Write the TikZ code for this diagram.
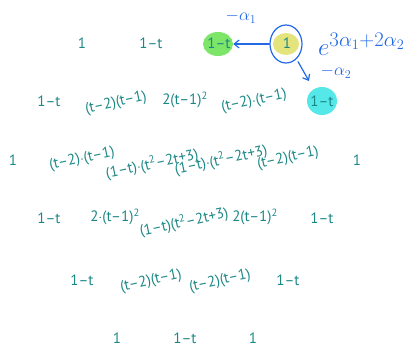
\documentclass[tikz,border=0pt]{standalone}
\usepackage{fontspec}
\setmainfont{PT Sans}
\usepackage{tikz}
\usetikzlibrary{arrows.meta,positioning,shapes.geometric}
\definecolor{wtteal}{RGB}{28,136,134}
\definecolor{inkblue}{RGB}{35,105,230}
\definecolor{hlgreen}{RGB}{125,230,105}
\definecolor{hlyellow}{RGB}{228,228,125}
\definecolor{hlcyan}{RGB}{85,232,232}
\newcommand{\mi}{\textendash}
\newcommand{\sq}{\textsuperscript{2}}

\begin{document}
\begin{tikzpicture}[
    x=1pt,y=-1pt,
    wt/.style={text=wtteal,font=\fontsize{15}{16}\selectfont,inner sep=1pt},
    wtr/.style={wt,rotate=12},
    blob/.style={ellipse,minimum width=30pt,minimum height=26pt,inner sep=0pt},
    ink/.style={inkblue,line width=1.2pt,line cap=round},
    inktext/.style={text=inkblue,font=\fontsize{17}{18}\selectfont},
    >={Straight Barb[length=5pt,width=8pt]}
  ]
  \useasboundingbox (0,0) rectangle (407,346);

  %% Highlights
  \node[blob,fill=hlgreen,minimum width=30pt,minimum height=24pt] (g) at (218,44) {};
  \node[blob,fill=hlyellow,minimum width=26pt,minimum height=22pt] (y) at (286,44) {};
  \node[blob,fill=hlcyan,minimum width=30pt,minimum height=28pt] (c) at (322,101) {};

  %% Row 1
  \node[wt] (r1a) at (82,43)  {1};
  \node[wt] (r1b) at (151,43) {1\mi t};
  \node[wt] (r1c) at (219,43) {1\mi t};
  \node[wt] (r1d) at (287,43) {1};

  %% Row 2
  \node[wt]  (r2a) at (49,101)  {1\mi t};
  \node[wtr] (r2b) at (116,103) {(t\mi 2)(t\mi 1)};
  \node[wt]  (r2c) at (185,100) {2(t\mi 1)\sq};
  \node[wtr] (r2d) at (254,101) {(t\mi 2)$\cdot$(t\mi 1)};
  \node[wt]  (r2e) at (322,101) {1\mi t};

  %% Row 3
  \node[wt]  (r3a) at (13,160)  {1};
  \node[wtr] (r3b) at (82,159)  {(t\mi 2)$\cdot$(t\mi 1)};
  \node[wtr] (r3c) at (152,164) {(1\mi t)$\cdot$(t\sq\mi 2t+3)};
  \node[wtr] (r3d) at (221,160) {(1\mi t)$\cdot$(t\sq\mi 2t+3)};
  \node[wtr] (r3e) at (288,158) {(t\mi 2)(t\mi 1)};
  \node[wt]  (r3f) at (357,160) {1};

  %% Row 4
  \node[wt]  (r4a) at (49,218)  {1\mi t};
  \node[wt]  (r4b) at (115,217) {2$\cdot$(t\mi 1)\sq};
  \node[wtr] (r4c) at (184,222) {(1\mi t)(t\sq\mi 2t+3)};
  \node[wt]  (r4d) at (255,217) {2(t\mi 1)\sq};
  \node[wt]  (r4e) at (322,218) {1\mi t};

  %% Row 5
  \node[wt]  (r5a) at (82,280)  {1\mi t};
  \node[wtr] (r5b) at (151,281) {(t\mi 2)(t\mi 1)};
  \node[wtr] (r5c) at (220,281) {(t\mi 2)(t\mi 1)};
  \node[wt]  (r5d) at (288,280) {1\mi t};

  %% Row 6
  \node[wt] (r6a) at (117,338) {1};
  \node[wt] (r6b) at (185,338) {1\mi t};
  \node[wt] (r6c) at (253,338) {1};

  %% Annotations
  \node[ellipse,draw=inkblue,line width=1.2pt,minimum width=32pt,minimum height=38pt] (ring) at (286,44) {};
  \coordinate (down) at (309,81);
  \draw[ink,->] (ring) -- (g);
  \draw[ink,->,shorten <=3pt] (ring.305) -- (down);
  \node[inktext] (a1) at (241,17) {$-\alpha_1$};
  \node[inktext] (a2) at (336,72) {$-\alpha_2$};
  \node[inktext,font=\fontsize{28}{30}\selectfont,anchor=west,inner sep=0pt] (ex) at (318,44) {$e^{3\alpha_1+2\alpha_2}$};
\end{tikzpicture}
\end{document}
